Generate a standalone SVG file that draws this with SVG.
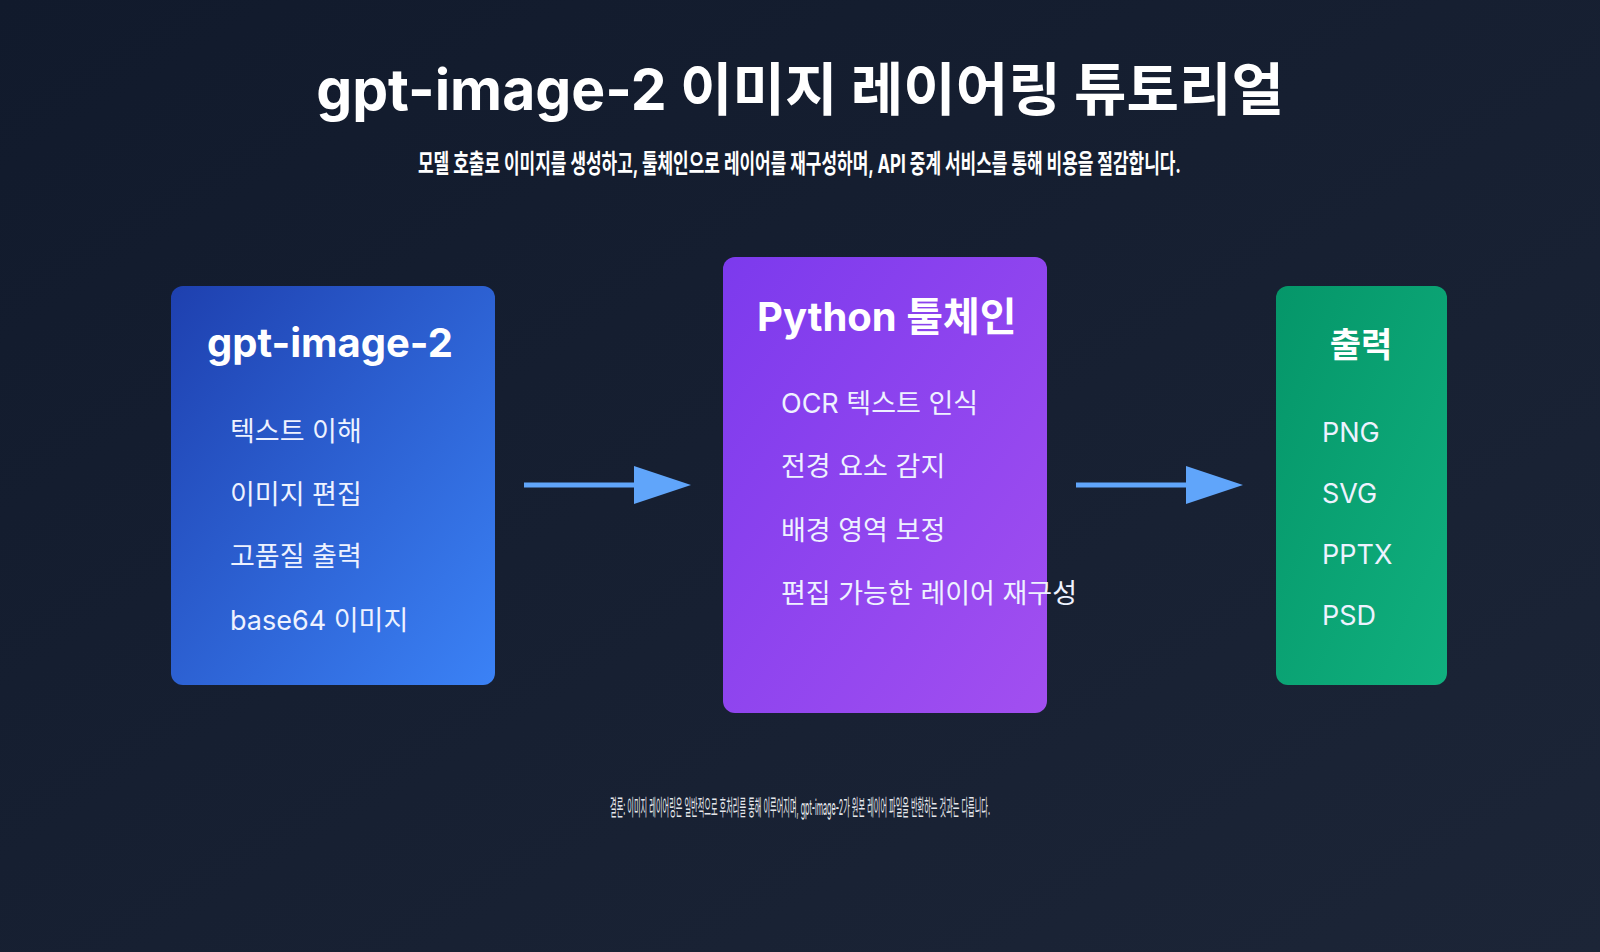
<svg xmlns="http://www.w3.org/2000/svg" width="1600" height="952" viewBox="0 0 1600 952">
<defs>
<linearGradient id="bg" x1="0" y1="0" x2="1" y2="1"><stop offset="0" stop-color="#111a2c"/><stop offset="1" stop-color="#1c2537"/></linearGradient>
<linearGradient id="g1" x1="0" y1="0" x2="1" y2="1"><stop offset="0" stop-color="#1e40af"/><stop offset="1" stop-color="#3b82f6"/></linearGradient>
<linearGradient id="g2" x1="0" y1="0" x2="1" y2="1"><stop offset="0" stop-color="#7c3aed"/><stop offset="1" stop-color="#a24ff0"/></linearGradient>
<linearGradient id="g3" x1="0" y1="0" x2="1" y2="1"><stop offset="0" stop-color="#059669"/><stop offset="1" stop-color="#10b07e"/></linearGradient>
<style>
text{font-family:"Inter","Noto Sans CJK KR",sans-serif;fill:#fff}
.t{font-size:27px;fill:#eef2ff}
.h{font-size:40px;font-weight:700}
.c{stroke:#60a5fa;stroke-width:5;fill:none}
</style>
</defs>
<rect width="1600" height="952" fill="url(#bg)"/>
<text x="800" y="110" text-anchor="middle" font-size="57" font-weight="700">gpt-image-2 이미지 레이어링 튜토리얼</text>
<text x="418" y="173" font-size="26" font-weight="700" textLength="763" lengthAdjust="spacingAndGlyphs">모델 호출로 이미지를 생성하고, 툴체인으로 레이어를 재구성하며, API 중계 서비스를 통해 비용을 절감합니다.</text>
<g id="node-gpt">
<rect x="171" y="286" width="324" height="399" rx="12" fill="url(#g1)"/>
<text x="207" y="357" class="h">gpt-image-2</text>
<text x="230" y="441" class="t">텍스트 이해</text>
<text x="230" y="504" class="t">이미지 편집</text>
<text x="230" y="566" class="t">고품질 출력</text>
<text x="230" y="630" class="t">base64 이미지</text>
</g>
<g id="node-python">
<rect x="723" y="257" width="324" height="456" rx="12" fill="url(#g2)"/>
<text x="757" y="331" class="h">Python 툴체인</text>
<text x="781" y="413" class="t">OCR 텍스트 인식</text>
<text x="781" y="476" class="t">전경 요소 감지</text>
<text x="781" y="540" class="t">배경 영역 보정</text>
<text x="781" y="603" class="t">편집 가능한 레이어 재구성</text>
</g>
<g id="node-output">
<rect x="1276" y="286" width="171" height="399" rx="12" fill="url(#g3)"/>
<text x="1361" y="357" text-anchor="middle" font-size="34" font-weight="700">출력</text>
<text x="1322" y="442" class="t">PNG</text>
<text x="1322" y="503" class="t">SVG</text>
<text x="1322" y="564" class="t">PPTX</text>
<text x="1322" y="625" class="t">PSD</text>
</g>
<g id="connectors">
<line class="c" x1="524" y1="485" x2="640" y2="485"/>
<path d="M634,466 L691,485 L634,504 Z" fill="#60a5fa"/>
<line class="c" x1="1076" y1="485" x2="1192" y2="485"/>
<path d="M1186,466 L1243,485 L1186,504 Z" fill="#60a5fa"/>
</g>
<text x="800" y="815" text-anchor="middle" font-size="22" textLength="380" lengthAdjust="spacingAndGlyphs" style="fill:#e5e7eb">결론: 이미지 레이어링은 일반적으로 후처리를 통해 이루어지며, gpt-image-2가 원본 레이어 파일을 반환하는 것과는 다릅니다.</text>
</svg>
